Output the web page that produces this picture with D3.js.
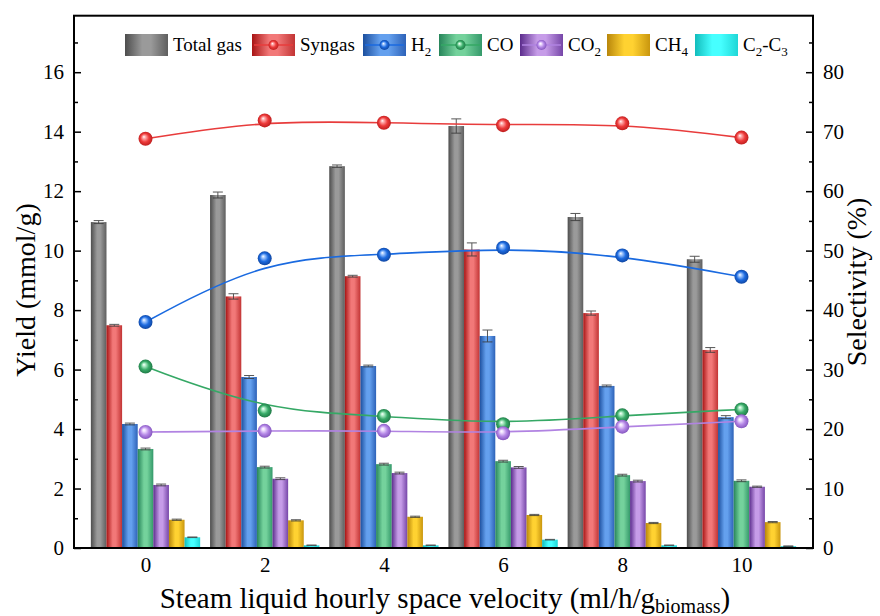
<!DOCTYPE html>
<html>
<head>
<meta charset="utf-8">
<script src="https://cdn.jsdelivr.net/npm/d3@7"></script>
<style>
  body { margin: 0; background: #fff; }
  svg { display: block; }
  svg text { font-family: "Liberation Serif", "Times New Roman", serif !important; fill: #000; }
</style>
</head>
<body>
<svg id="chart" width="880" height="616"></svg>
<script>
// Steam LHSV (ml/h/g biomass)
const velocities = [0, 2, 4, 6, 8, 10];

// Gas yields (mmol/g) – bars
const totalGasYield = [10.96, 11.87, 12.84, 14.19, 11.13, 9.71];
const syngasYield   = [7.49, 8.46, 9.14, 10.04, 7.90, 6.66];
const h2Yield       = [4.17, 5.75, 6.12, 7.13, 5.45, 4.40];
const coYield       = [3.33, 2.72, 2.82, 2.92, 2.45, 2.26];
const co2Yield      = [2.12, 2.33, 2.52, 2.71, 2.25, 2.06];
const ch4Yield      = [0.95, 0.93, 1.05, 1.11, 0.84, 0.87];
const c2c3Yield     = [0.36, 0.09, 0.09, 0.28, 0.09, 0.06];

// Standard deviations of the yields
const totalGasErr = [0.05, 0.10, 0.04, 0.24, 0.12, 0.10];
const syngasErr   = [0.03, 0.09, 0.03, 0.22, 0.07, 0.08];
const h2Err       = [0.03, 0.05, 0.03, 0.20, 0.03, 0.05];
const coErr       = [0.03, 0.03, 0.03, 0.03, 0.03, 0.03];
const co2Err      = [0.03, 0.03, 0.03, 0.03, 0.03, 0.02];
const ch4Err      = [0.02, 0.02, 0.02, 0.02, 0.02, 0.02];
const c2c3Err     = [0.01, 0.01, 0.01, 0.01, 0.01, 0.01];

// Selectivity (%) – lines
const syngasSel = [68.8, 71.9, 71.5, 71.1, 71.4, 69.0];
const h2Sel     = [38.0, 48.7, 49.3, 50.5, 49.2, 45.6];
const coSel     = [30.5, 23.1, 22.2, 20.8, 22.3, 23.3];
const co2Sel    = [19.5, 19.7, 19.7, 19.3, 20.4, 21.3];

// Tick values
const yieldTicks = [0, 2, 4, 6, 8, 10, 12, 14, 16];
const yieldMinorTicks = [1, 3, 5, 7, 9, 11, 13, 15, 17];
const selTicks = [0, 10, 20, 30, 40, 50, 60, 70, 80];
const selMinorTicks = [5, 15, 25, 35, 45, 55, 65, 75, 85];
const xTicks = [0, 2, 4, 6, 8, 10];

const barSeries = [
  { key: "total", values: totalGasYield, err: totalGasErr, shade: ["#4d4d4d", "#9a9a9a", "#5e5e5e"] },
  { key: "syngas", values: syngasYield, err: syngasErr, shade: ["#a81414", "#f27878", "#c23434"] },
  { key: "h2", values: h2Yield, err: h2Err, shade: ["#1c4f9e", "#64a0ee", "#2d62b8"] },
  { key: "co", values: coYield, err: coErr, shade: ["#27855a", "#74d29c", "#34996a"] },
  { key: "co2", values: co2Yield, err: co2Err, shade: ["#5b2c8c", "#c69ce8", "#7646a8"] },
  { key: "ch4", values: ch4Yield, err: ch4Err, shade: ["#b8860b", "#ffd231", "#c9960e"] },
  { key: "c2c3", values: c2c3Yield, err: c2c3Err, shade: ["#12bcbc", "#46ffff", "#1fd6d6"] }
];

const lineSeries = [
  { key: "syngas", values: syngasSel, color: "#e83c3c", ball: ["#ffb0b0", "#ee3b3b", "#b51818"] },
  { key: "h2", values: h2Sel, color: "#1a6ae0", ball: ["#a9ccff", "#1d6be0", "#0d3f96"] },
  { key: "co", values: coSel, color: "#35a865", ball: ["#b6f0cc", "#38ab68", "#1b7040"] },
  { key: "co2", values: co2Sel, color: "#b183e2", ball: ["#f0e0ff", "#b487e6", "#7d4db8"] }
];

const serif = '"Liberation Serif", "Times New Roman", serif';
const svg = d3.select("#chart");
const defs = svg.append("defs");

const plotLeft = 74, plotRight = 813, plotTop = 15.7, plotBottom = 548;

const x = d3.scaleLinear().domain([-1.2, 11.2]).range([plotLeft, plotRight]);
const yL = d3.scaleLinear().domain([0, 17.9]).range([plotBottom, plotTop]);
const yR = d3.scaleLinear().domain([0, 89.5]).range([plotBottom, plotTop]);
const band = d3.scaleBand().domain(barSeries.map(d => d.key)).range([-0.917, 0.917]).padding(0);

// cylinder-like shading for bars
barSeries.forEach(s => {
  const g = defs.append("linearGradient").attr("id", "bar-" + s.key)
    .attr("x1", "0").attr("x2", "1").attr("y1", "0").attr("y2", "0");
  g.append("stop").attr("offset", "0%").attr("stop-color", s.shade[0]);
  g.append("stop").attr("offset", "40%").attr("stop-color", s.shade[1]);
  g.append("stop").attr("offset", "60%").attr("stop-color", s.shade[1]);
  g.append("stop").attr("offset", "100%").attr("stop-color", s.shade[2]);
});
// spherical markers
lineSeries.forEach(s => {
  const g = defs.append("radialGradient").attr("id", "ball-" + s.key)
    .attr("cx", "50%").attr("cy", "50%").attr("r", "55%").attr("fx", "38%").attr("fy", "35%");
  g.append("stop").attr("offset", "0%").attr("stop-color", "#ffffff");
  g.append("stop").attr("offset", "18%").attr("stop-color", s.ball[0]);
  g.append("stop").attr("offset", "55%").attr("stop-color", s.ball[1]);
  g.append("stop").attr("offset", "100%").attr("stop-color", s.ball[2]);
});

// bars
const barW = x(band.bandwidth()) - x(0);
barSeries.forEach(s => {
  const g = svg.append("g");
  velocities.forEach((v, i) => {
    const x0 = x(v + band(s.key));
    g.append("rect")
      .attr("x", x0).attr("y", yL(s.values[i]))
      .attr("width", barW).attr("height", yL(0) - yL(s.values[i]))
      .attr("fill", `url(#bar-${s.key})`);
    // error bar
    const cx = x0 + barW / 2;
    const hi = yL(s.values[i] + s.err[i]), lo = yL(s.values[i] - s.err[i]);
    const eb = g.append("g").attr("stroke", "#3a3a3a").attr("stroke-width", 1).attr("opacity", 0.85);
    eb.append("line").attr("x1", cx).attr("x2", cx).attr("y1", hi).attr("y2", lo);
    eb.append("line").attr("x1", cx - 5).attr("x2", cx + 5).attr("y1", hi).attr("y2", hi);
    eb.append("line").attr("x1", cx - 5).attr("x2", cx + 5).attr("y1", lo).attr("y2", lo);
  });
});

// selectivity curves
const line = d3.line().x((d, i) => x(velocities[i])).y(d => yR(d)).curve(d3.curveBasis);
lineSeries.forEach(s => {
  svg.append("path").attr("d", line(s.values))
    .attr("fill", "none").attr("stroke", s.color).attr("stroke-width", 1.6);
});
lineSeries.forEach(s => {
  svg.append("g").selectAll("circle").data(s.values).join("circle")
    .attr("cx", (d, i) => x(velocities[i])).attr("cy", d => yR(d))
    .attr("r", 7).attr("fill", `url(#ball-${s.key})`);
});

// axes
function styleAxis(g) {
  g.attr("font-family", serif).attr("font-size", 21);
  g.selectAll(".domain").remove();
  g.selectAll(".tick line").attr("stroke", "#000").attr("stroke-width", 1.5);
  g.selectAll(".tick text").attr("fill", "#000").style("font-family", serif).style("font-size", "21px");
}
svg.append("g").attr("transform", `translate(${plotLeft},0)`)
  .call(d3.axisLeft(yL).tickValues(yieldTicks).tickSize(-7).tickPadding(10).tickFormat(d3.format("d")))
  .call(styleAxis);
svg.append("g").attr("transform", `translate(${plotLeft},0)`)
  .call(d3.axisLeft(yL).tickValues(yieldMinorTicks).tickSize(-4).tickFormat(""))
  .call(styleAxis);
svg.append("g").attr("transform", `translate(${plotRight},0)`)
  .call(d3.axisRight(yR).tickValues(selTicks).tickSize(-7).tickPadding(10).tickFormat(d3.format("d")))
  .call(styleAxis);
svg.append("g").attr("transform", `translate(${plotRight},0)`)
  .call(d3.axisRight(yR).tickValues(selMinorTicks).tickSize(-4).tickFormat(""))
  .call(styleAxis);
svg.append("g").attr("transform", `translate(0,${plotBottom})`)
  .call(d3.axisBottom(x).tickValues(xTicks).tickSize(0).tickPadding(9).tickFormat(d3.format("d")))
  .call(styleAxis);

// frame
svg.append("rect").attr("x", plotLeft).attr("y", plotTop)
  .attr("width", plotRight - plotLeft).attr("height", plotBottom - plotTop)
  .attr("fill", "none").attr("stroke", "#000").attr("stroke-width", 2);

// axis titles
svg.append("text").attr("transform", "translate(35,290) rotate(-90)")
  .attr("text-anchor", "middle").style("font-family", serif).style("font-size", "28px").text("Yield (mmol/g)");
svg.append("text").attr("transform", "translate(866,282) rotate(-90)")
  .attr("text-anchor", "middle").style("font-family", serif).style("font-size", "28px").text("Selectivity (%)");
const xt = svg.append("text").attr("x", 445).attr("y", 608).attr("text-anchor", "middle")
  .style("font-family", serif).style("font-size", "29px");
xt.append("tspan").text("Steam liquid hourly space velocity (ml/h/g");
xt.append("tspan").attr("dy", 5).style("font-size", "20px").text("biomass");
xt.append("tspan").attr("dy", -5).text(")");

// legend
const legendItems = [
  { key: "total", label: [["Total gas", false]], x: 125 },
  { key: "syngas", label: [["Syngas", false]], x: 252, line: true },
  { key: "h2", label: [["H", false], ["2", true]], x: 363, line: true },
  { key: "co", label: [["CO", false]], x: 439, line: true },
  { key: "co2", label: [["CO", false], ["2", true]], x: 520, line: true },
  { key: "ch4", label: [["CH", false], ["4", true]], x: 607 },
  { key: "c2c3", label: [["C", false], ["2", true], ["-C", false], ["3", true]], x: 695 }
];
const boxW = 43, boxH = 22, boxY = 34;
const leg = svg.append("g");
legendItems.forEach(it => {
  leg.append("rect").attr("x", it.x).attr("y", boxY).attr("width", boxW).attr("height", boxH)
    .attr("fill", `url(#bar-${it.key})`);
  if (it.line) {
    const ls = lineSeries.find(s => s.key === it.key);
    leg.append("line").attr("x1", it.x + 2).attr("x2", it.x + boxW - 2)
      .attr("y1", boxY + boxH / 2).attr("y2", boxY + boxH / 2)
      .attr("stroke", ls.color).attr("stroke-width", 1.6);
    leg.append("circle").attr("cx", it.x + boxW / 2).attr("cy", boxY + boxH / 2).attr("r", 5)
      .attr("fill", `url(#ball-${it.key})`);
  }
  const t = leg.append("text").attr("x", it.x + boxW + 5).attr("y", boxY + 17)
    .style("font-family", serif).style("font-size", "19px");
  let shifted = false;
  it.label.forEach(([s, sub]) => {
    const sp = t.append("tspan").text(s);
    if (sub && !shifted) { sp.attr("dy", 5).style("font-size", "13px"); shifted = true; }
    else if (!sub && shifted) { sp.attr("dy", -5); shifted = false; }
    else if (sub) { sp.style("font-size", "13px"); }
  });
});
</script>
</body>
</html>
